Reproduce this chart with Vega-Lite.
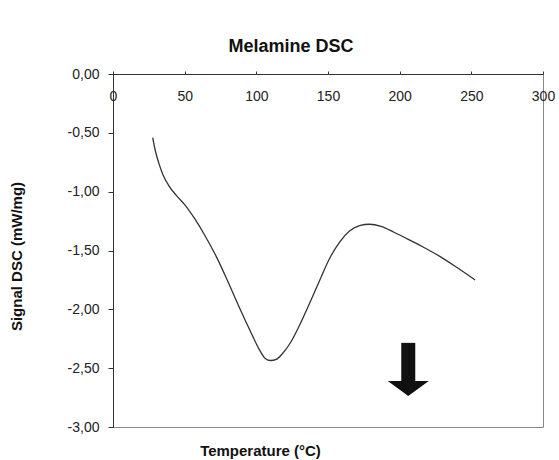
{
  "$schema": "https://vega.github.io/schema/vega-lite/v6.json",
  "width": 430,
  "height": 353,
  "autosize": {"type": "none"},
  "padding": {"left": 113, "top": 74, "right": 16, "bottom": 33},
  "title": {
    "text": "Melamine DSC",
    "font": "Liberation Sans",
    "fontSize": 18,
    "fontWeight": "bold",
    "color": "#111",
    "anchor": "middle",
    "frame": "group",
    "dx": -37,
    "offset": 11
  },
  "datasets": {
    "curve": [
      {"T": 27.7, "S": -0.54},
      {"T": 29.5, "S": -0.65},
      {"T": 32.0, "S": -0.76},
      {"T": 35.0, "S": -0.86},
      {"T": 39.0, "S": -0.95},
      {"T": 44.0, "S": -1.03},
      {"T": 50.0, "S": -1.11},
      {"T": 57.0, "S": -1.23},
      {"T": 64.0, "S": -1.37},
      {"T": 72.0, "S": -1.55},
      {"T": 80.0, "S": -1.76},
      {"T": 88.0, "S": -1.98},
      {"T": 96.0, "S": -2.19},
      {"T": 102.0, "S": -2.34},
      {"T": 106.0, "S": -2.415},
      {"T": 110.0, "S": -2.435},
      {"T": 114.0, "S": -2.425},
      {"T": 118.0, "S": -2.38},
      {"T": 124.0, "S": -2.28},
      {"T": 130.0, "S": -2.14},
      {"T": 136.0, "S": -1.98},
      {"T": 144.0, "S": -1.76},
      {"T": 151.0, "S": -1.57},
      {"T": 158.0, "S": -1.43},
      {"T": 165.0, "S": -1.335},
      {"T": 172.0, "S": -1.288},
      {"T": 179.0, "S": -1.277},
      {"T": 187.0, "S": -1.295},
      {"T": 196.0, "S": -1.345},
      {"T": 206.0, "S": -1.405},
      {"T": 216.0, "S": -1.468},
      {"T": 228.0, "S": -1.55},
      {"T": 240.0, "S": -1.645},
      {"T": 252.6, "S": -1.75}
    ],
    "arrow": [
      {"T": 206, "top": -2.285, "bottom": -2.62, "head": -2.61}
    ]
  },
  "layer": [
    {
      "data": {"name": "curve"},
      "mark": {"type": "line", "interpolate": "monotone", "color": "#333", "strokeWidth": 1.3},
      "encoding": {
        "x": {
          "field": "T",
          "type": "quantitative",
          "scale": {"domain": [0, 300], "nice": false},
          "axis": {
            "orient": "top",
            "values": [0, 50, 100, 150, 200, 250, 300],
            "title": "Temperature (°C)",
            "titleX": 147,
            "titleY": 376,
            "titleBaseline": "middle",
            "titleAnchor": null,
            "titleAlign": "center",
            "titleFont": "Liberation Sans",
            "titleFontSize": 15,
            "titleFontWeight": "bold",
            "titleColor": "#111",
            "labelFont": "Liberation Sans",
            "labelFontSize": 14,
            "labelColor": "#222",
            "labelBaseline": "middle",
            "labelPadding": -25,
            "labelFlush": false,
            "labelOverlap": false,
            "tickSize": 3,
            "tickColor": "#333",
            "domainColor": "#333",
            "grid": false
          }
        },
        "y": {
          "field": "S",
          "type": "quantitative",
          "scale": {"domain": [-3, 0], "nice": false},
          "axis": {
            "orient": "left",
            "values": [0, -0.5, -1, -1.5, -2, -2.5, -3],
            "labelExpr": "replace(replace(format(datum.value, '.2f'), '.', ','), '\u2212', '-')",
            "title": "Signal DSC (mW/mg)",
            "titleX": -89,
            "titleY": 182,
            "titleAngle": -90,
            "titleAlign": "center",
            "titleBaseline": "bottom",
            "titleFont": "Liberation Sans",
            "titleFontSize": 15,
            "titleFontWeight": "bold",
            "titleColor": "#111",
            "labelFont": "Liberation Sans",
            "labelFontSize": 14,
            "labelColor": "#222",
            "labelPadding": 9,
            "tickSize": 5,
            "tickColor": "#333",
            "domainColor": "#333",
            "grid": false
          }
        }
      }
    },
    {
      "data": {"name": "arrow"},
      "mark": {"type": "rule", "color": "#111", "strokeWidth": 14, "strokeCap": "butt"},
      "encoding": {
        "x": {"field": "T", "type": "quantitative"},
        "y": {"field": "top", "type": "quantitative"},
        "y2": {"field": "bottom"}
      }
    },
    {
      "data": {"name": "arrow"},
      "mark": {"type": "point", "shape": "M-1,0L1,0L0,0.73Z", "size": 1681, "filled": true, "color": "#111", "opacity": 1, "strokeWidth": 0},
      "encoding": {
        "x": {"field": "T", "type": "quantitative"},
        "y": {"field": "head", "type": "quantitative"}
      }
    }
  ],
  "config": {
    "view": {"stroke": "#888", "strokeWidth": 1},
    "background": "white"
  }
}
